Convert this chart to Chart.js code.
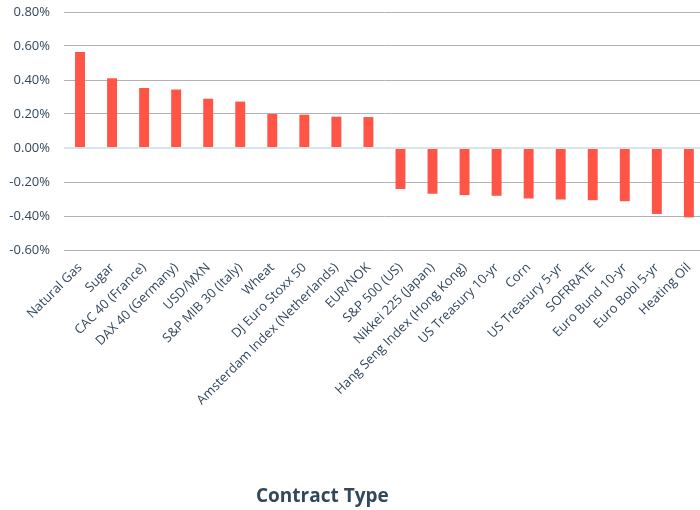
<!DOCTYPE html>
<html>
<head>
<meta charset="utf-8">
<script src="https://cdn.jsdelivr.net/npm/chart.js@4"></script>
<style>
  body { margin: 0; overflow: hidden; background: #fff; }
  #wrap { width: 710px; height: 510px; position: relative; }
</style>
</head>
<body>
<div id="wrap"><canvas id="chart"></canvas></div>
<script>
const contracts = [`Natural Gas`, `Sugar`, `CAC 40 (France)`, `DAX 40 (Germany)`, `USD/MXN`,
  `S&P MIB 30 (Italy)`, `Wheat`, `DJ Euro Stoxx 50`, `Amsterdam Index (Netherlands)`, `EUR/NOK`,
  `S&P 500 (US)`, `Nikkei 225 (Japan)`, `Hang Seng Index (Hong Kong)`, `US Treasury 10-yr`, `Corn`,
  `US Treasury 5-yr`, `SOFRRATE`, `Euro Bund 10-yr`, `Euro Bobl 5-yr`, `Heating Oil`];
// percent change
const changes = [0.564, 0.41, 0.353, 0.344, 0.29, 0.273, 0.20, 0.196, 0.184, 0.182,
  -0.241, -0.269, -0.277, -0.281, -0.297, -0.303, -0.307, -0.313, -0.388, -0.408];
const yTicks = [-0.6, -0.4, -0.2, 0, 0.2, 0.4, 0.6, 0.8];
const axisTitle = `Contract Type`;

const textColor = `#33475b`;
const font = `"Open Sans", sans-serif`;

// axis title sits left of the plot centre, like the original
const axisTitlePlugin = {
  id: `axisTitle`,
  afterDraw(chart) {
    const ctx = chart.ctx;
    ctx.save();
    ctx.font = `bold 19px ${font}`;
    ctx.fillStyle = textColor;
    ctx.textAlign = `center`;
    ctx.textBaseline = `middle`;
    ctx.fillText(axisTitle, chart.width * 0.454, chart.height - 13);
    ctx.restore();
  }
};

new Chart(document.getElementById(`chart`), {
  type: `bar`,
  data: {
    labels: contracts,
    datasets: [{
      data: changes,
      backgroundColor: `#ff5446`,
      barPercentage: 0.31,
      categoryPercentage: 1
    }]
  },
  options: {
    responsive: true,
    maintainAspectRatio: false,
    animation: false,
    layout: { padding: { top: 12, right: 4, left: 0, bottom: 0 } },
    plugins: { legend: { display: false }, tooltip: { enabled: false } },
    scales: {
      x: {
        grid: { display: false, drawTicks: false },
        border: { display: false },
        ticks: {
          color: textColor,
          font: { family: font, size: 13 },
          minRotation: 45,
          maxRotation: 45,
          autoSkip: false,
          padding: 10
        },
        afterFit(scale) { scale.height = 260; }
      },
      y: {
        min: -0.6,
        max: 0.8,
        afterBuildTicks(scale) { scale.ticks = yTicks.map(v => ({ value: v })); },
        grid: {
          drawTicks: false,
          color: ctx => ctx.tick && ctx.tick.value === 0 ? `#d6e4ec` : `#b3b3b3`,
          lineWidth: ctx => ctx.tick && ctx.tick.value === 0 ? 2 : 1
        },
        border: { display: false },
        ticks: {
          color: textColor,
          font: { family: font, size: 13 },
          padding: 14,
          callback: v => v.toFixed(2) + `%`
        },
        afterFit(scale) {
          scale.width = 64;
          scale.paddingTop = 0;
          scale.paddingBottom = 0;
        }
      }
    }
  },
  plugins: [axisTitlePlugin]
});
</script>
</body>
</html>
